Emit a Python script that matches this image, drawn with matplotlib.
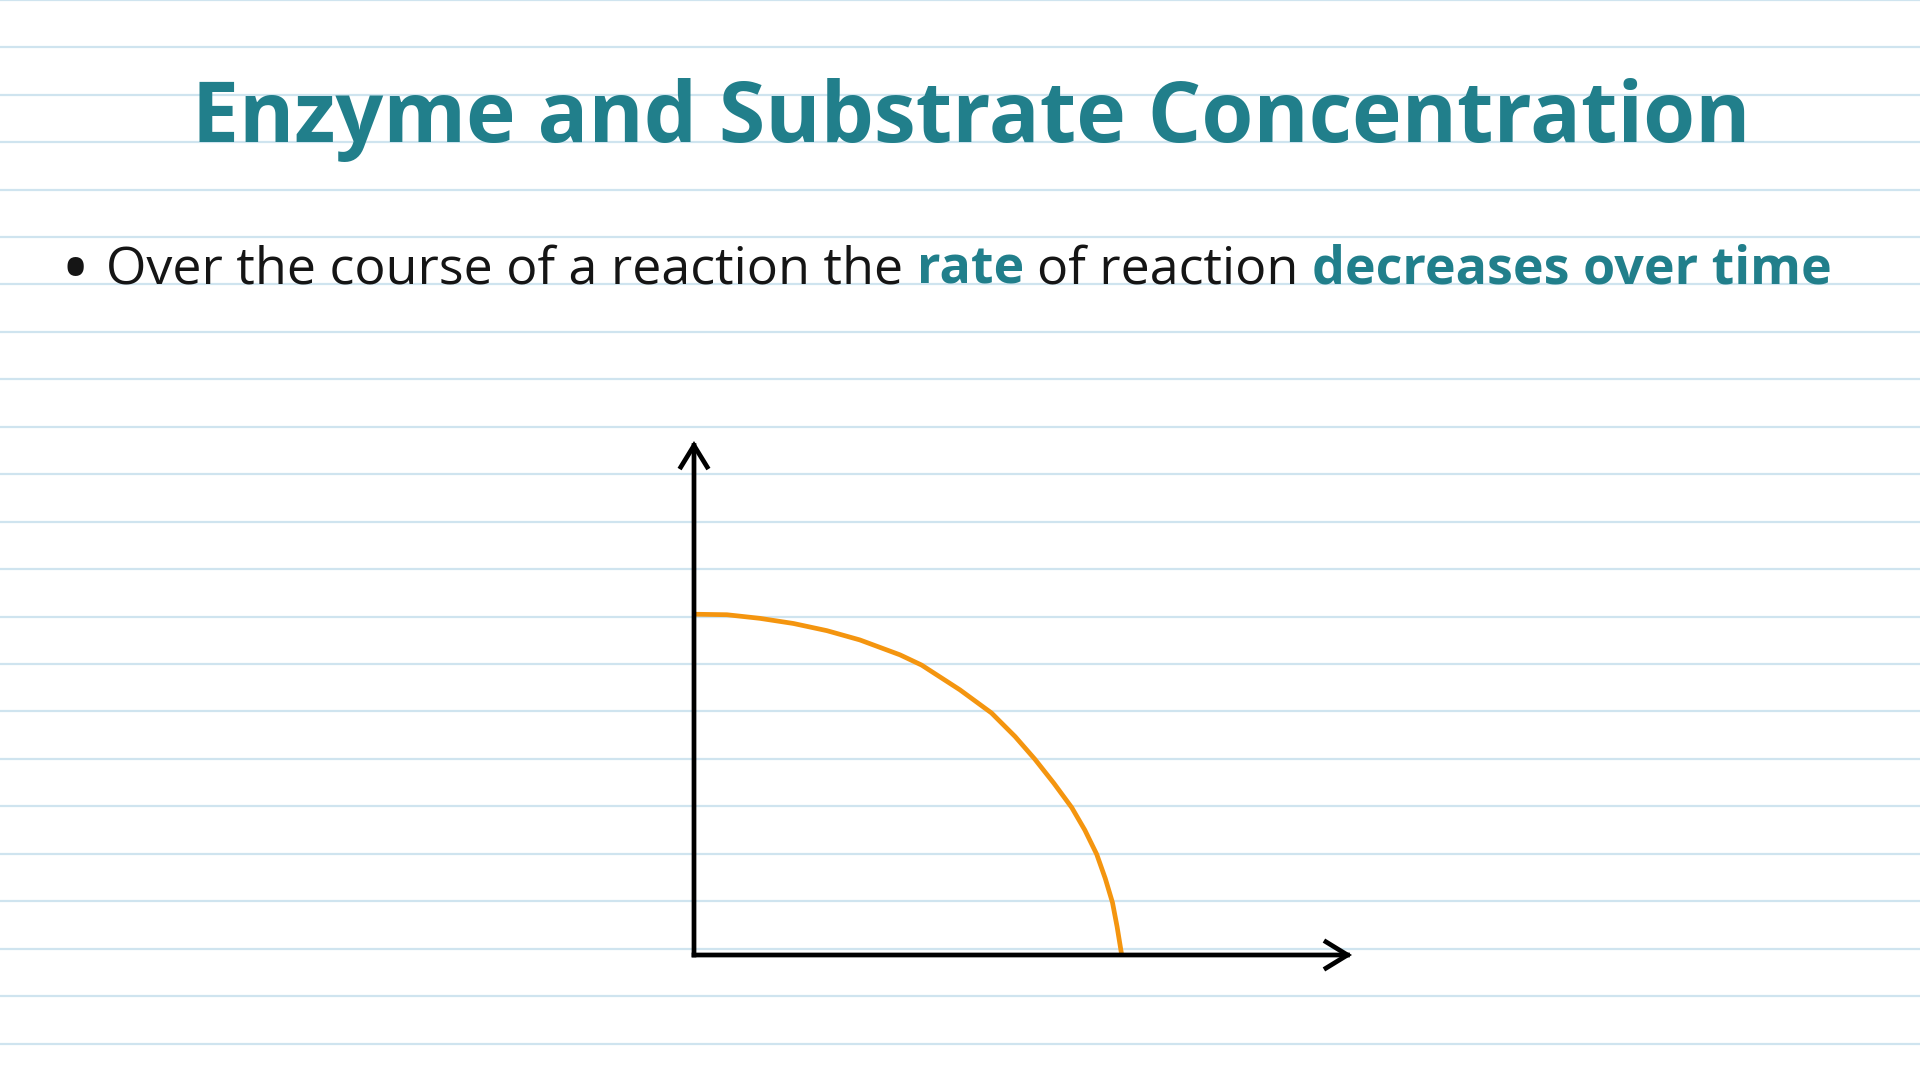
import matplotlib
matplotlib.use("Agg")
import matplotlib.pyplot as plt
from matplotlib.patches import FancyArrowPatch

# ---- data ----
time_vals = [0.00, 0.50, 1.00, 1.51, 2.02, 2.52, 3.13, 3.46, 4.04, 4.52,
             4.88, 5.18, 5.47, 5.74, 5.94, 6.12, 6.25, 6.36, 6.43, 6.50]
rate_vals = [6.63, 6.62, 6.55, 6.45, 6.31, 6.13, 5.84, 5.64, 5.16, 4.71,
             4.25, 3.81, 3.34, 2.87, 2.43, 1.96, 1.49, 1.02, 0.55, 0.00]

title_text = "Enzyme and Substrate Concentration"
bullet_parts = [("Over the course of a reaction the", "normal"),
                ("rate", "bold"),
                ("of reaction", "normal"),
                ("decreases over time", "bold")]

TEAL = "#217f8b"
ORANGE = "#f4950f"
RULE = "#cfe4ef"
INK = "#151515"
FONT = "Open Sans"

W, H = 1920, 1080
fig = plt.figure(figsize=(W / 100, H / 100), dpi=100)
fig.patch.set_facecolor("white")

# ruled-paper background
bg = fig.add_axes([0, 0, 1, 1])
bg.set_xlim(0, W)
bg.set_ylim(H, 0)
bg.axis("off")
y = -0.3
while y < H:
    bg.axhline(y, color=RULE, lw=1.6, zorder=0)
    y += 47.45

# title
fig.text(971 / W, 1 - 142 / H, title_text, ha="center", va="baseline",
         fontsize=60.6, fontweight="bold", color=TEAL, family=FONT)

# bullet line with mixed styles
fs = 37.45
by = 1 - 283 / H
fig.text(75 / W, 1 - 296 / H, "\u2022", ha="center", va="baseline", fontsize=56,
         color=INK, family=FONT)
fig.canvas.draw()
renderer = fig.canvas.get_renderer()


def text_width(s, weight):
    t = fig.text(0, 0, s, fontsize=fs, fontweight=weight, family=FONT)
    w = t.get_window_extent(renderer).width
    t.remove()
    return w


space_w = text_width("a a", "normal") - text_width("aa", "normal")
x = 106.0
for s, wt in bullet_parts:
    col = TEAL if wt == "bold" else INK
    t = fig.text(x / W, by, s, ha="left", va="baseline", fontsize=fs,
                 fontweight=wt, color=col, family=FONT)
    x += t.get_window_extent(renderer).width + space_w

# chart
ax = fig.add_axes([694 / W, 1 - 955 / H, 658 / W, 514 / H])
ax.set_xlim(0, 10)
ax.set_ylim(0, 10)
ax.axis("off")

for end in [(10, 0), (0, 10)]:
    arr = FancyArrowPatch((0, 0), end, arrowstyle="->,head_length=1.55,head_width=0.95",
                          mutation_scale=10, lw=3.4, color="black",
                          capstyle="projecting", joinstyle="miter",
                          shrinkA=0, shrinkB=0, clip_on=False, zorder=3)
    ax.add_patch(arr)

ax.plot(time_vals, rate_vals, color=ORANGE, lw=3.4, clip_on=False, zorder=2,
        solid_capstyle="butt", solid_joinstyle="round")

fig.savefig("out.png", dpi=100)
